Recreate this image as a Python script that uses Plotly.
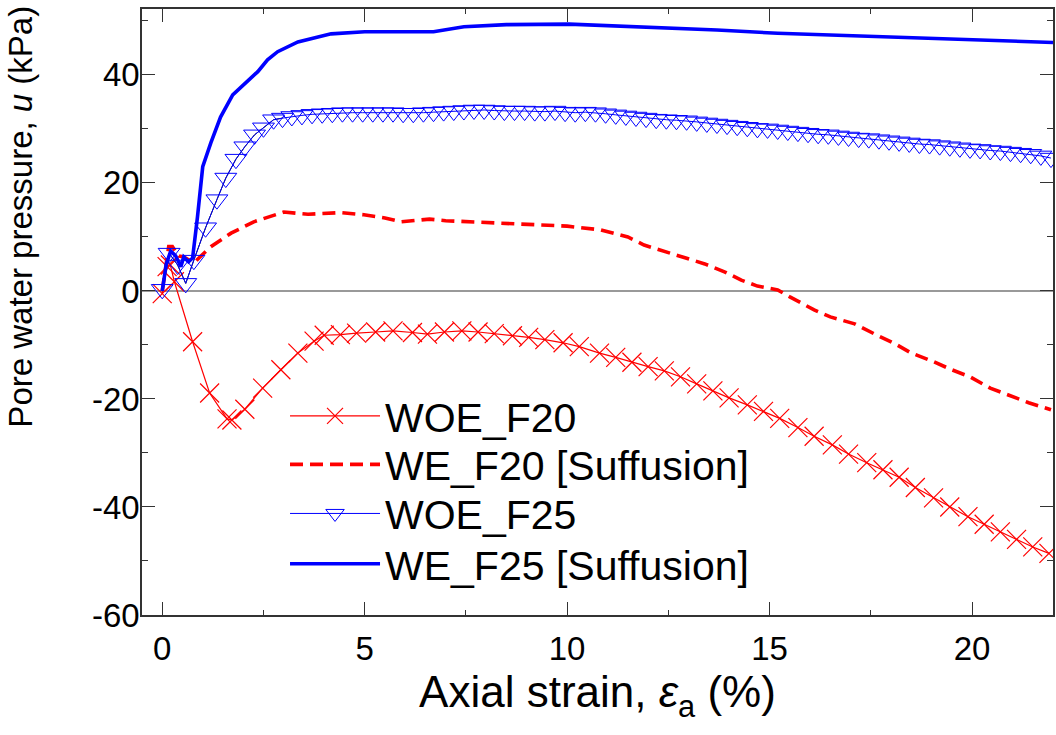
import plotly.graph_objects as go

# ---------------- data ----------------
woe_f20_x = [0.0, 0.12, 0.2, 0.3, 0.75, 1.17, 1.6, 1.72, 2.04, 2.48, 2.93, 3.35, 3.75, 4.0, 4.4, 4.8,
             5.27, 5.7, 6.18, 6.55, 6.97, 7.4, 7.8, 8.2, 8.65, 9.05, 9.45, 9.9, 10.3, 10.8,
             11.2, 11.6, 12.0, 12.4, 12.8, 13.2, 13.6, 14.0, 14.45, 14.85, 15.25, 15.7,
             16.1, 16.55, 16.95, 17.4, 17.8, 18.2, 18.6, 19.05, 19.45, 19.9, 20.3, 20.7,
             21.1, 21.5, 21.9]
woe_f20_y = [-0.5, 4.5, 4.8, 1.7, -9.4, -18.9, -23.7, -23.9, -21.9, -18.0, -14.6, -11.5, -9.3, -8.2, -8.1, -7.8,
             -7.6, -7.4, -7.7, -8.0, -7.6, -7.4, -7.6, -7.9, -8.3, -8.6, -9.0, -9.6, -10.3, -11.5,
             -12.3, -13.2, -14.0, -14.8, -15.9, -17.2, -18.5, -19.8, -21.1, -22.3, -23.6, -25.3,
             -26.9, -28.5, -30.2, -31.8, -33.1, -34.5, -36.4, -38.3, -40.0, -41.8, -43.2, -44.6,
             -46.0, -47.4, -48.6]

we_f20_x = [0.0, 0.16, 0.25, 0.4, 0.53, 0.78, 1.2, 1.7, 2.26, 3.0, 3.6, 4.4, 4.98, 5.5, 5.9, 6.3,
            6.6, 7.0, 8.5, 10.0, 10.83, 11.5, 11.9, 12.3, 12.9, 13.4, 13.9, 14.3, 14.7, 15.2,
            15.5, 16.1, 16.5, 17.1, 17.6, 18.1, 18.5, 19.05, 19.5, 19.95, 20.45, 20.9, 21.4, 21.95]
we_f20_y = [0.0, 8.2, 8.2, 6.5, 6.3, 5.2, 8.2, 10.7, 12.8, 14.6, 14.2, 14.5, 14.1, 13.5, 12.8, 13.1,
            13.3, 13.0, 12.5, 12.0, 11.3, 10.0, 8.5, 7.6, 6.1, 5.0, 3.5, 2.0, 0.9, 0.2,
            -1.1, -3.5, -4.8, -6.1, -8.0, -9.8, -11.5, -13.1, -14.6, -15.9, -18.0, -19.3, -20.7, -22.0]

woe_f25_x = [0.0, 0.17, 0.38, 0.58, 0.78, 1.07, 1.35, 1.57, 1.82, 2.04, 2.28, 2.5, 2.75, 2.97,
             3.2, 3.45, 3.7, 3.95, 4.2, 4.45, 4.7, 4.95, 5.2, 5.45, 5.7, 5.95, 6.2, 6.45, 6.7,
             6.95, 7.2, 7.45, 7.7, 7.95, 8.2, 8.45, 8.7, 8.95, 9.2, 9.45, 9.7, 9.95, 10.2,
             10.45, 10.7, 10.95, 11.2, 11.45, 11.7, 11.95, 12.2, 12.45, 12.7, 12.95, 13.2,
             13.45, 13.7, 13.95, 14.2, 14.45, 14.7, 14.95, 15.2, 15.45, 15.7, 15.95, 16.2,
             16.45, 16.7, 16.95, 17.2, 17.45, 17.7, 17.95, 18.2, 18.45, 18.7, 18.95, 19.2,
             19.45, 19.7, 19.95, 20.2, 20.45, 20.7, 20.95, 21.2, 21.45, 21.7, 21.95]
woe_f25_y = [0.3, 7.0, 4.8, 1.4, 5.7, 11.7, 16.9, 20.9, 24.4, 26.7, 28.9, 30.2, 31.7, 32.0,
             32.3, 32.5, 32.7, 32.8, 32.9, 33.0, 33.0, 33.0, 33.0, 33.0, 33.0, 32.9, 32.9, 33.0, 33.1,
             33.2, 33.3, 33.4, 33.5, 33.5, 33.4, 33.3, 33.3, 33.3, 33.2, 33.2, 33.3, 33.1, 33.0,
             33.1, 33.0, 32.8, 32.6, 32.4, 32.2, 32.0, 31.8, 31.7, 31.6, 31.5, 31.3,
             31.1, 30.9, 30.7, 30.5, 30.3, 30.1, 30.0, 29.8, 29.6, 29.4, 29.2, 29.0,
             28.9, 28.7, 28.5, 28.3, 28.2, 28.0, 27.8, 27.6, 27.4, 27.2, 27.1, 26.9,
             26.7, 26.5, 26.3, 26.2, 26.0, 25.9, 25.7, 25.5, 25.3, 25.0, 24.6]

we_f25_x = [0.0, 0.1, 0.21, 0.33, 0.46, 0.53, 0.65, 0.75, 0.87, 1.0, 1.2, 1.44, 1.74, 2.1, 2.36,
            2.6, 2.85, 3.35, 4.17, 5.0, 5.9, 6.7, 7.45, 8.5, 10.05, 12.1, 13.7, 15.2, 16.8,
            18.3, 19.9, 20.9, 22.0]
we_f25_y = [0.0, 5.0, 7.4, 6.5, 4.5, 6.3, 5.4, 6.1, 13.7, 23.0, 27.4, 32.2, 36.3, 38.7, 40.6,
            42.8, 44.3, 46.1, 47.6, 48.0, 48.0, 48.0, 48.9, 49.3, 49.4, 48.8, 48.3, 47.7, 47.3,
            46.9, 46.6, 46.2, 46.0]

series_names = ["WOE_F20", "WE_F20 [Suffusion]", "WOE_F25", "WE_F25 [Suffusion]"]
x_ticks = [0, 5, 10, 15, 20]
y_ticks = [-60, -40, -20, 0, 20, 40]
x_title = "Axial strain, <i>ε</i><sub>a</sub> (%)"
y_title = "Pore water pressure, <i>u</i> (kPa)"

RED = "#FF0000"
BLUE = "#0000FF"
FONT = "Liberation Sans, Arial, sans-serif"

fig = go.Figure()

fig.add_trace(go.Scatter(
    x=woe_f20_x, y=woe_f20_y, name=series_names[0], mode="lines+markers", legend="legend",
    line=dict(color=RED, width=1.2),
    marker=dict(symbol="x-thin-open", size=19, color=RED, line=dict(color=RED, width=1.2)),
))
fig.add_trace(go.Scatter(
    x=we_f20_x, y=we_f20_y, name=series_names[1], mode="lines", legend="legend2",
    line=dict(color=RED, width=3.6, dash="13px,7px"),
))
# thin dark connecting line of WOE_F25 visible in the rising part
n_rise = 14
fig.add_trace(go.Scatter(
    x=woe_f25_x[:n_rise], y=woe_f25_y[:n_rise], mode="lines", showlegend=False,
    line=dict(color="black", width=1), hoverinfo="skip",
))
fig.add_trace(go.Scatter(
    x=woe_f25_x, y=woe_f25_y, name=series_names[2], mode="lines+markers", legend="legend3",
    line=dict(color=BLUE, width=1),
    marker=dict(symbol="triangle-down-open", size=19, color=BLUE, line=dict(color=BLUE, width=1)),
))
fig.add_trace(go.Scatter(
    x=we_f25_x, y=we_f25_y, name=series_names[3], mode="lines", legend="legend4",
    line=dict(color=BLUE, width=3.6),
))

# one legend box per row so the rows can sit as tightly as in the reference
legend_rows_y = [0.328, 0.248, 0.167, 0.084]
legend_style = dict(
    x=0.157, xanchor="left", yanchor="middle",
    bgcolor="rgba(0,0,0,0)", borderwidth=0,
    font=dict(size=41, family=FONT, color="black"),
    itemwidth=90,
)

fig.update_layout(
    width=1056, height=735,
    margin=dict(l=142, r=3, t=9, b=120),
    paper_bgcolor="white", plot_bgcolor="white",
    font=dict(family=FONT, color="black"),
    showlegend=True,
    legend=dict(y=legend_rows_y[0], **legend_style),
    legend2=dict(y=legend_rows_y[1], **legend_style),
    legend3=dict(y=legend_rows_y[2], **legend_style),
    legend4=dict(y=legend_rows_y[3], **legend_style),
    annotations=[dict(
        text=y_title, xref="paper", yref="paper",
        x=-0.1335, y=0.658, xanchor="center", yanchor="middle",
        textangle=-90, showarrow=False, borderpad=0,
        font=dict(size=33, family=FONT, color="black"),
    )],
)

axis_common = dict(
    showline=True, linecolor="#333333", linewidth=1.5, mirror="allticks",
    ticks="inside", ticklen=13, tickwidth=1, tickcolor="#333333",
    showgrid=False, automargin=False,
)

fig.update_xaxes(
    **axis_common,
    range=[-0.5, 22.0], tickvals=x_ticks, ticktext=[str(v) for v in x_ticks],
    zeroline=False,
    minor=dict(ticks="inside", ticklen=5, dtick=2.5, tick0=0, tickcolor="#333333"),
    tickfont=dict(size=33, family=FONT), ticklabelstandoff=4,
    title=dict(text=x_title, font=dict(size=44, family=FONT), standoff=4),
)
fig.update_yaxes(
    **axis_common,
    range=[-60, 52.2], tickvals=y_ticks, ticktext=[str(v) for v in y_ticks],
    zeroline=True, zerolinecolor="#999999", zerolinewidth=1.5,
    minor=dict(ticks="inside", ticklen=6, dtick=10, tick0=0, tickcolor="#333333"),
    tickfont=dict(size=33, family=FONT), ticklabelstandoff=-6,
)

fig.write_html("out.html", config={"displayModeBar": False},
               post_script="document.body.style.margin='0px';")
